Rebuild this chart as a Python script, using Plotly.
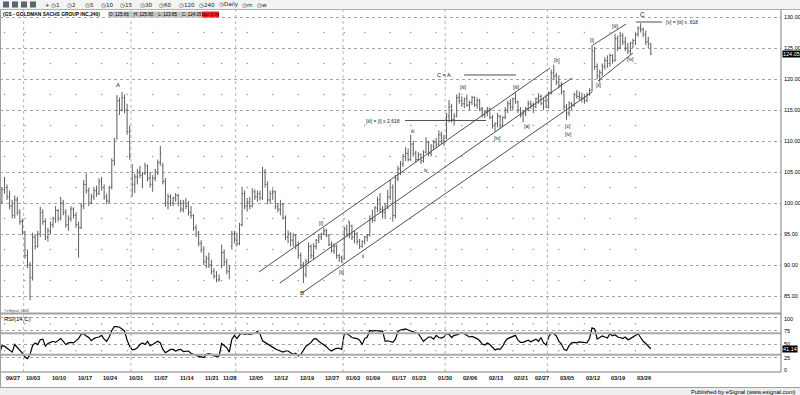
import pandas as pd
import plotly.graph_objects as go

# ---------------- data (GS 240-min bars) ----------------
FIRST_DAY = "2011-09-26"
LAST_DAY = "2012-03-29"
holidays = ["2011-11-24", "2011-12-26", "2012-01-02", "2012-01-16", "2012-02-20"]
single_bar_days = ["2011-11-25", "2012-03-29"]

opens = [
    98.5, 100.2, 102.2, 102.5, 101.0, 99.5, 98.0, 100.5, 98.5, 97.0,
    95.3, 91.5, 90.0, 88.0, 94.5, 93.0, 95.0, 98.5, 97.0, 94.5,
    95.5, 96.5, 97.5, 98.8, 97.5, 100.0, 98.5, 96.5, 97.5, 99.0,
    98.0, 96.5, 96.0, 99.5, 103.0, 102.0, 100.0, 101.0, 102.0, 101.5,
    103.5, 102.5, 101.0, 100.3, 102.5, 106.8, 110.5, 116.5, 115.0, 117.0,
    115.0, 111.5, 104.0, 103.0, 104.2, 105.0, 104.5, 104.8, 106.0, 104.0,
    103.0, 104.0, 105.0, 106.5, 106.0, 103.5, 100.0, 101.0, 100.0, 100.8,
    101.2, 100.0, 99.0, 100.0, 99.5, 98.5, 98.0, 96.0, 95.0, 93.5,
    92.5, 90.5, 91.0, 90.0, 89.0, 88.2, 87.6,
    90.0, 92.0, 90.5, 89.0, 93.0, 95.0, 94.0, 93.5, 96.5, 101.5,
    99.5, 100.2, 99.5, 101.8, 101.0, 101.5, 100.8, 105.0, 103.0, 100.5,
    101.5, 101.8, 99.4, 99.0, 99.8, 97.6, 94.5, 95.0, 94.0, 94.8,
    93.2, 91.5, 90.0, 88.5, 90.5, 93.0, 91.5, 93.0, 94.0, 94.5,
    95.0, 95.5, 94.8, 93.3, 92.3, 93.0, 91.5, 91.2, 91.0, 95.8,
    95.0, 96.3, 94.5, 95.0, 93.8, 93.0, 93.8, 94.5, 94.8, 97.5,
    97.2, 99.2, 100.5, 99.0, 98.5, 99.5, 101.0, 102.5, 98.0, 104.0,
    105.5, 106.3, 107.5, 108.0, 107.0, 109.5, 108.0, 107.0, 107.8, 106.8,
    108.2, 109.8, 108.0, 109.2, 109.8, 109.5, 111.0, 110.0, 110.5, 114.0,
    115.5, 113.5, 114.0, 117.0, 116.5, 116.0, 116.8, 115.8, 116.2, 117.0,
    115.8, 116.5, 115.2, 114.2, 114.8, 115.2, 113.8, 112.5, 112.8, 114.0,
    112.5, 113.8, 115.0, 116.0, 115.5, 116.8, 116.3, 115.0, 114.2, 114.5,
    115.2, 116.0, 115.8, 115.5, 116.8, 117.2, 116.0, 116.5, 115.5, 117.8,
    121.0, 120.5, 119.5, 119.0, 118.0, 115.5, 114.5, 116.0, 115.8, 117.5,
    117.2, 117.0, 116.8, 116.5, 117.5, 118.2, 124.5, 122.0, 120.5, 121.0,
    122.0, 123.0, 122.5, 123.8, 123.0, 126.5, 125.0, 127.0, 126.0, 125.0,
    124.5, 125.8, 126.2, 127.2, 128.2, 128.0, 127.2, 126.0, 125.66,
]
highs = [
    100.5, 102.6, 104.2, 103.0, 102.0, 100.5, 101.2, 101.0, 99.0, 97.5,
    95.5, 92.5, 90.5, 95.2, 95.0, 95.5, 99.4, 99.0, 97.5, 96.0,
    97.0, 97.8, 99.5, 99.0, 101.0, 100.5, 99.0, 98.0, 99.5, 99.3,
    98.5, 97.0, 100.0, 103.7, 104.8, 102.5, 101.5, 102.6, 102.8, 104.0,
    104.2, 103.0, 101.5, 102.8, 107.2, 110.5, 117.4, 117.0, 117.9, 117.5,
    116.0, 112.5, 106.3, 104.7, 105.5, 106.0, 105.0, 106.5, 106.2, 105.0,
    104.5, 105.5, 107.0, 109.2, 106.5, 104.0, 101.5, 101.4, 101.0, 101.6,
    101.5, 100.5, 100.5, 100.8, 100.3, 99.5, 98.2, 96.5, 95.5, 94.0,
    93.0, 91.5, 92.0, 90.8, 89.5, 89.0, 88.5,
    93.3, 92.5, 91.0, 90.0, 95.5, 95.5, 95.2, 96.8, 102.6, 102.0,
    100.8, 101.0, 102.4, 102.2, 102.0, 102.0, 105.8, 105.5, 103.5, 102.0,
    102.3, 102.0, 100.0, 100.5, 100.0, 98.0, 95.6, 95.3, 95.2, 95.0,
    93.8, 92.0, 90.5, 91.0, 93.6, 93.3, 93.5, 94.2, 95.0, 95.2,
    96.0, 95.8, 95.0, 93.8, 93.5, 93.3, 91.8, 91.5, 96.2, 96.5,
    97.0, 96.5, 95.6, 95.3, 94.2, 94.0, 94.7, 95.0, 98.0, 98.9,
    99.5, 101.0, 101.6, 99.5, 100.0, 102.1, 103.7, 103.0, 104.5, 106.0,
    106.8, 107.9, 109.0, 108.8, 111.0, 110.0, 108.4, 108.2, 108.0, 108.5,
    110.6, 110.0, 109.5, 110.2, 110.5, 111.7, 111.5, 111.0, 114.5, 116.6,
    116.0, 114.5, 117.5, 117.8, 117.2, 117.0, 117.5, 116.5, 117.3, 117.2,
    117.0, 116.8, 115.5, 115.0, 115.5, 115.4, 114.2, 113.0, 114.5, 114.2,
    114.0, 115.5, 116.5, 116.8, 117.0, 117.9, 116.5, 115.5, 115.0, 115.5,
    116.5, 116.5, 116.2, 117.0, 117.7, 117.5, 117.0, 117.5, 118.0, 121.5,
    122.3, 121.0, 120.6, 119.5, 118.2, 116.0, 116.4, 116.3, 117.8, 118.2,
    118.0, 117.8, 117.5, 117.8, 118.5, 125.5, 125.2, 122.5, 121.5, 122.5,
    123.5, 123.8, 124.1, 124.0, 127.3, 127.0, 127.6, 127.4, 126.8, 125.8,
    126.0, 126.5, 127.5, 128.5, 129.0, 128.3, 127.8, 126.8, 125.8,
]
lows = [
    97.8, 99.8, 101.5, 100.5, 99.0, 97.5, 97.5, 98.0, 96.5, 94.8,
    91.0, 89.5, 84.3, 87.5, 92.5, 92.8, 94.5, 96.5, 94.0, 93.8,
    95.0, 96.0, 96.8, 97.0, 97.2, 98.0, 96.0, 95.5, 97.0, 97.5,
    96.0, 91.2, 95.8, 99.0, 101.5, 99.5, 99.8, 100.5, 101.0, 101.3,
    102.0, 100.5, 99.8, 100.0, 102.2, 106.0, 110.2, 114.2, 114.8, 114.5,
    111.0, 107.0, 101.0, 101.6, 103.0, 104.0, 102.4, 104.5, 103.5, 102.5,
    101.8, 103.5, 104.5, 106.0, 103.0, 99.4, 99.0, 99.5, 99.5, 100.2,
    99.5, 98.5, 98.5, 99.0, 98.0, 97.5, 95.5, 94.5, 93.0, 92.0,
    90.0, 89.5, 89.5, 88.5, 87.8, 87.2, 87.3,
    89.5, 90.0, 88.5, 87.7, 92.5, 93.5, 93.0, 93.2, 96.2, 99.0,
    98.6, 99.0, 99.3, 100.5, 100.2, 100.4, 100.5, 102.5, 99.8, 100.0,
    100.5, 99.0, 98.5, 98.0, 97.3, 94.0, 93.5, 93.0, 93.0, 92.5,
    91.0, 89.5, 87.1, 88.0, 90.3, 91.0, 90.8, 92.5, 93.5, 94.0,
    94.8, 94.5, 93.0, 92.0, 91.8, 91.0, 90.5, 90.3, 90.8, 94.5,
    94.3, 94.0, 93.5, 93.3, 92.6, 92.8, 93.3, 93.8, 94.6, 96.8,
    97.0, 98.5, 98.5, 97.5, 97.4, 99.0, 100.5, 97.0, 97.5, 103.5,
    104.5, 105.8, 106.8, 106.7, 106.8, 107.5, 106.5, 106.8, 106.3, 106.5,
    108.0, 107.5, 107.5, 108.5, 108.8, 109.2, 109.5, 109.2, 110.3, 113.0,
    113.0, 112.5, 113.8, 116.0, 115.5, 115.3, 115.5, 115.0, 115.8, 115.5,
    115.2, 114.8, 113.8, 113.7, 114.0, 113.5, 112.0, 111.5, 112.2, 112.0,
    112.3, 113.5, 114.5, 115.0, 115.0, 116.0, 114.5, 113.8, 113.0, 114.0,
    114.8, 115.2, 114.5, 115.3, 116.0, 115.8, 115.0, 115.3, 115.2, 117.5,
    120.0, 119.0, 118.5, 117.5, 115.0, 113.4, 114.0, 115.0, 115.5, 116.8,
    116.5, 116.2, 116.0, 116.3, 117.3, 118.0, 121.5, 120.0, 119.4, 120.5,
    121.5, 121.8, 122.0, 122.5, 122.8, 124.5, 124.8, 125.5, 124.5, 124.0,
    123.9, 125.0, 125.5, 126.8, 127.5, 126.8, 125.5, 125.0, 123.85,
]
closes = [
    100.2, 102.2, 102.5, 101.0, 99.5, 98.0, 100.5, 98.5, 97.0, 95.3,
    91.5, 90.0, 88.0, 94.5, 93.0, 95.0, 98.5, 97.0, 94.5, 95.5,
    96.5, 97.5, 98.8, 97.5, 100.0, 98.5, 96.5, 97.5, 99.0, 98.0,
    96.5, 96.0, 99.5, 103.0, 102.0, 100.0, 101.0, 102.0, 101.5, 103.5,
    102.5, 101.0, 100.3, 102.5, 106.8, 110.0, 116.5, 115.0, 117.0, 115.0,
    111.5, 107.5, 103.0, 104.2, 105.0, 104.5, 104.8, 106.0, 104.0, 103.0,
    104.0, 105.0, 106.5, 108.0, 103.5, 100.0, 101.0, 100.0, 100.8, 101.2,
    100.0, 99.0, 100.0, 99.5, 98.5, 98.0, 96.0, 95.0, 93.5, 92.5,
    90.5, 91.0, 90.0, 89.0, 88.2, 87.6, 87.8,
    92.0, 90.5, 89.0, 89.5, 95.0, 94.0, 93.5, 96.5, 101.5, 99.5,
    100.2, 99.5, 101.8, 101.0, 101.5, 100.8, 105.0, 103.0, 100.5, 101.5,
    101.8, 99.4, 99.0, 99.8, 97.6, 94.5, 95.0, 94.0, 94.8, 93.2,
    91.5, 90.0, 88.5, 90.5, 93.0, 91.5, 93.0, 94.0, 94.5, 95.0,
    95.5, 94.8, 93.3, 92.3, 93.0, 91.5, 91.2, 90.8, 95.8, 95.0,
    96.3, 94.5, 95.0, 93.8, 93.0, 93.8, 94.5, 94.8, 97.5, 97.2,
    99.2, 100.5, 99.0, 98.5, 99.5, 101.0, 102.5, 98.0, 104.0, 105.5,
    106.3, 107.5, 108.0, 107.0, 109.5, 108.0, 107.0, 107.8, 106.8, 108.2,
    109.8, 108.0, 109.2, 109.8, 109.5, 111.0, 110.0, 110.5, 114.0, 115.5,
    113.5, 114.0, 117.0, 116.5, 116.0, 116.8, 115.8, 116.2, 117.0, 115.8,
    116.5, 115.2, 114.2, 114.8, 115.2, 113.8, 112.5, 112.8, 114.0, 112.5,
    113.8, 115.0, 116.0, 115.5, 116.8, 116.3, 115.0, 114.2, 114.5, 115.2,
    116.0, 115.8, 115.5, 116.8, 117.2, 116.0, 116.5, 115.5, 117.8, 121.0,
    120.5, 119.5, 119.0, 118.0, 115.5, 114.5, 116.0, 115.8, 117.5, 117.2,
    117.0, 116.8, 116.5, 117.5, 118.2, 124.5, 122.0, 120.5, 121.0, 122.0,
    123.0, 122.5, 123.8, 123.0, 126.5, 125.0, 127.0, 126.0, 125.0, 124.5,
    125.8, 126.2, 127.2, 128.2, 128.0, 127.2, 126.0, 125.66, 124.05,
]
rsi = [
    30, 47, 46, 42, 39, 35, 49, 44, 40, 33,
    26, 23, 31, 47, 52, 49, 58, 59, 46, 51,
    53, 55, 53, 56, 60, 55, 49, 52, 53, 52,
    56, 60, 68, 69, 65, 62, 56, 60, 62, 63,
    66, 59, 55, 63, 75, 82, 82, 81, 78, 74,
    57, 46, 39, 40, 43, 49, 52, 49, 55, 47,
    49, 52, 55, 52, 40, 34, 37, 40, 40, 37,
    39, 40, 36, 37, 37, 33, 31, 28, 27, 26,
    25, 31, 32, 31, 28, 27, 28,
    51, 46, 43, 35, 59, 66, 60, 67, 70, 68,
    69, 68, 69, 70, 73, 69, 56, 53, 50, 47,
    43, 41, 39, 37, 35, 37, 37, 34, 31, 33,
    28, 31, 40, 46, 49, 53, 59, 60, 55, 52,
    49, 45, 40, 37, 40, 42, 42, 40, 69, 69,
    66, 62, 61, 60, 57, 49, 60, 63, 75, 74,
    75, 74, 74, 74, 55, 56, 55, 53, 59, 73,
    76, 77, 78, 76, 74, 72, 71, 69, 62, 55,
    59, 63, 63, 59, 66, 62, 61, 63, 69, 68,
    62, 66, 67, 69, 71, 69, 66, 63, 64, 62,
    60, 56, 50, 48, 52, 49, 43, 39, 41, 40,
    46, 55, 60, 62, 63, 66, 57, 53, 53, 55,
    57, 54, 57, 59, 55, 62, 52, 48, 63, 71,
    69, 65, 55, 50, 40, 38, 47, 52, 53, 52,
    54, 53, 53, 52, 60, 80, 78, 59, 62, 65,
    63, 61, 69, 65, 67, 63, 62, 60, 63, 58,
    60, 63, 67, 69, 62, 55, 51, 46, 41.14,
]

tick_dates = ["2011-09-27", "2011-10-03", "2011-10-10", "2011-10-17", "2011-10-24",
              "2011-10-31", "2011-11-07", "2011-11-14", "2011-11-21", "2011-11-28",
              "2011-12-05", "2011-12-12", "2011-12-19", "2011-12-27", "2012-01-03",
              "2012-01-09", "2012-01-17", "2012-01-23", "2012-01-30", "2012-02-06",
              "2012-02-13", "2012-02-21", "2012-02-27", "2012-03-05", "2012-03-12",
              "2012-03-19", "2012-03-26"]
tick_labels = ["09/27", "10/03", "10/10", "10/17", "10/24", "10/31", "11/07", "11/14",
               "11/21", "11/28", "12/05", "12/12", "12/19", "12/27", "01/03", "01/09",
               "01/17", "01/23", "01/30", "02/06", "02/13", "02/21", "02/27", "03/05",
               "03/12", "03/19", "03/26"]
price_ticks = [85, 90, 95, 100, 105, 110, 115, 120, 125, 130]
rsi_ticks = [0, 25, 50, 75, 100]
rsi_bands = [30, 70]
last_price = 124.05
last_rsi = 41.14

# wave labels: (bar position, price, text, size)
wave_labels = [
    (46.4, 119.0, "A", 6), (118.4, 85.5, "B", 6), (251.9, 130.4, "C", 6.5),
    (174.0, 120.65, "C = A", 5.5), (150.2, 113.23, "[iii] = [i] x 2.618", 5),
    (181.5, 118.7, "[iii]", 5), (161.9, 111.6, "iii", 5), (167.0, 105.3, "iv", 5),
    (125.9, 96.8, "[i]", 5), (134.1, 88.9, "[ii]", 5), (136.5, 97.1, "i", 5),
    (142.3, 91.45, "ii", 5), (202.6, 118.7, "[iii]", 5), (194.8, 110.5, "[iv]", 5),
    (206.5, 112.4, "[a]", 5), (218.3, 123.06, "[b]", 5), (222.6, 112.42, "[c]", 5),
    (222.6, 111.1, "[iv]", 5), (232.3, 126.3, "[i]", 5), (234.7, 119.0, "[ii]", 5),
    (241.0, 128.55, "[iii]", 5), (247.2, 123.2, "[iv]", 5),
]
note_left = (260.1, 129.19, "[v] = [iii] x .618")
# drawn trend / target lines: (bar0, price0, bar1, price1)
trend_lines = [
    (101.6, 88.87, 215.5, 121.77),
    (109.8, 87.10, 224.1, 120.16),
    (118.4, 85.48, 232.0, 117.90),
    (232.3, 125.48, 245.3, 128.87),
    (234.3, 119.68, 248.0, 124.19),
    (181.9, 120.65, 202.2, 120.65),
    (158.8, 113.31, 190.5, 113.31),
    (249.2, 129.19, 259.4, 129.19),
]

# ---------------- build ----------------
W, H = 800, 395
FONT = "Liberation Sans"


def fx(px):
    return px / W


def fy(py):
    return 1 - py / H


trading = [d.strftime("%Y-%m-%d") for d in pd.bdate_range(FIRST_DAY, LAST_DAY)]
trading = [d for d in trading if d not in holidays]
bar_day = []
for d in trading:
    bar_day += [d] * (1 if d in single_bar_days else 2)
n = len(closes)
assert len(bar_day) == n == len(opens) == len(highs) == len(lows) == len(rsi)
bar_x = list(range(n))

tick_pos = [bar_day.index(d) for d in tick_dates]
month_pos = [i for i in range(1, n) if bar_day[i][:7] != bar_day[i - 1][:7]]

fig = go.Figure()
fig.add_trace(go.Ohlc(
    x=bar_x, open=opens, high=highs, low=lows, close=closes,
    increasing=dict(line=dict(color="#5e5e5e", width=1)),
    decreasing=dict(line=dict(color="#5e5e5e", width=1)),
    tickwidth=0.4, hoverinfo="skip", showlegend=False, xaxis="x", yaxis="y"))
fig.add_trace(go.Scatter(
    x=bar_x, y=rsi, mode="lines", line=dict(color="black", width=1.2),
    hoverinfo="skip", showlegend=False, xaxis="x", yaxis="y2"))

# faint weekly grid dots
dot_levels = [p + 2.5 for p in price_ticks[:-1]]
fig.add_trace(go.Scatter(
    x=[t for t in tick_pos for _ in dot_levels], y=[p for _ in tick_pos for p in dot_levels],
    mode="markers", marker=dict(size=1.6, color="#9a9a9a"), hoverinfo="skip",
    showlegend=False, xaxis="x", yaxis="y"))
fig.add_trace(go.Scatter(
    x=[t for t in tick_pos for _ in (37.5, 87.5)], y=[p for _ in tick_pos for p in (37.5, 87.5)],
    mode="markers", marker=dict(size=1.6, color="#9a9a9a"), hoverinfo="skip",
    showlegend=False, xaxis="x", yaxis="y2"))

shapes = []
# toolbar strip
shapes.append(dict(type="rect", xref="paper", yref="paper", x0=0, x1=1, y0=fy(9.5), y1=1,
                   fillcolor="#f3f3f3", line=dict(width=0), layer="below"))
shapes.append(dict(type="line", xref="paper", yref="paper", x0=0, x1=1, y0=fy(9.5), y1=fy(9.5),
                   line=dict(color="#b0b0b0", width=1)))
for ix in (3, 12, 21, 30):
    shapes.append(dict(type="rect", xref="paper", yref="paper", x0=fx(ix), x1=fx(ix + 6),
                       y0=fy(7.5), y1=fy(1.5), fillcolor="#5c6470", line=dict(width=0)))
# month separators
for m in month_pos:
    shapes.append(dict(type="line", xref="x", yref="paper", x0=m - 0.5, x1=m - 0.5,
                       y0=fy(372), y1=fy(10), line=dict(color="#b4b4b4", width=1, dash="dot")))
# RSI bands
for b in rsi_bands:
    shapes.append(dict(type="line", xref="paper", yref="y2", x0=0, x1=fx(781), y0=b, y1=b,
                       line=dict(color="#a8a8a8", width=2)))
# panel frame
shapes.append(dict(type="line", xref="paper", yref="paper", x0=0, x1=fx(781), y0=fy(313.5), y1=fy(313.5),
                   line=dict(color="#a0a0a0", width=2)))
shapes.append(dict(type="line", xref="paper", yref="paper", x0=0, x1=fx(781), y0=fy(372), y1=fy(372),
                   line=dict(color="#808080", width=1)))
shapes.append(dict(type="line", xref="paper", yref="paper", x0=fx(781), x1=fx(781), y0=fy(372), y1=fy(10),
                   line=dict(color="#808080", width=1)))
shapes.append(dict(type="line", xref="paper", yref="paper", x0=fx(0.5), x1=fx(0.5), y0=fy(387), y1=fy(10),
                   line=dict(color="#a0a0a0", width=1)))
# status bar
shapes.append(dict(type="rect", xref="paper", yref="paper", x0=0, x1=1, y0=0, y1=fy(387.5),
                   fillcolor="#efefef", line=dict(width=0), layer="below"))
shapes.append(dict(type="line", xref="paper", yref="paper", x0=0, x1=1, y0=fy(387.5), y1=fy(387.5),
                   line=dict(color="#a0a0a0", width=1)))
# header boxes
shapes.append(dict(type="rect", xref="paper", yref="paper", x0=fx(108), x1=fx(202), y0=fy(17.5), y1=fy(11.5),
                   fillcolor="#c4c4c4", line=dict(width=0)))
shapes.append(dict(type="rect", xref="paper", yref="paper", x0=fx(202), x1=fx(219), y0=fy(17.5), y1=fy(11.5),
                   fillcolor="#ee1c1c", line=dict(width=0)))
# trend lines
for (a0, p0, a1, p1) in trend_lines:
    shapes.append(dict(type="line", xref="x", yref="y", x0=a0, y0=p0, x1=a1, y1=p1,
                       line=dict(color="#505050", width=1)))

ann = []
# toolbar text
tool_items = [("+", 43), ("◷1", 49), ("◷2", 65), ("◷5", 83), ("◷10", 99), ("◷15", 118),
              ("◷30", 138), ("◷60", 157), ("◷120", 177), ("◷240", 197), ("◷Daily", 217),
              ("◷m", 240), ("◷w", 255)]
for t, ix in tool_items:
    ann.append(dict(x=fx(ix), y=fy(5), xref="paper", yref="paper", text=t, showarrow=False,
                    xanchor="left", yanchor="middle", font=dict(size=5.6, family="DejaVu Sans", color="#222")))
ann.append(dict(x=fx(1), y=fy(14.5), xref="paper", yref="paper", text="<b>(GS - GOLDMAN SACHS GROUP INC,240)</b>",
                showarrow=False, xanchor="left", yanchor="middle", font=dict(size=4.9, family=FONT, color="black")))
ann.append(dict(x=fx(155), y=fy(14.5), xref="paper", yref="paper",
                text="O: 125.66    H: 125.80    L: 123.85    C: 124.05",
                showarrow=False, xanchor="center", yanchor="middle", font=dict(size=4.5, family=FONT, color="black")))
ann.append(dict(x=fx(210.5), y=fy(14.5), xref="paper", yref="paper", text="Net -2.78",
                showarrow=False, xanchor="center", yanchor="middle", font=dict(size=4.2, family=FONT, color="black")))
# date labels
for pos, lab in zip(tick_pos, tick_labels):
    ann.append(dict(x=pos, y=fy(378), xref="x", yref="paper", text="<b>" + lab + "</b>", showarrow=False,
                    xanchor="left", yanchor="middle", xshift=-0.5, font=dict(size=5.6, family=FONT, color="#111")))
# price / rsi axis labels
for v in price_ticks:
    ann.append(dict(x=fx(782.5), y=v, xref="paper", yref="y", text=f"{v:.2f}", showarrow=False,
                    xanchor="left", yanchor="middle", borderpad=0, font=dict(size=5.5, family=FONT, color="black")))
for v in rsi_ticks:
    ann.append(dict(x=fx(783), y=min(max(v, 2), 97), xref="paper", yref="y2", text=str(v), showarrow=False,
                    xanchor="left", yanchor="middle", borderpad=0, font=dict(size=5.5, family=FONT, color="black")))
# last values
ann.append(dict(x=fx(781.5), y=last_price, xref="paper", yref="y", text=f"{last_price:.2f}", showarrow=False,
                xanchor="left", yanchor="middle", bgcolor="black", borderpad=0,
                font=dict(size=5.5, family=FONT, color="white")))
ann.append(dict(x=fx(781.5), y=last_rsi, xref="paper", yref="y2", text=f"{last_rsi:.2f}", showarrow=False,
                xanchor="left", yanchor="middle", bgcolor="black", borderpad=0,
                font=dict(size=5.5, family=FONT, color="white")))
# panel texts
ann.append(dict(x=fx(2), y=fy(319), xref="paper", yref="paper", text="RSI(14,C)", showarrow=False,
                xanchor="left", yanchor="middle", font=dict(size=6, family=FONT, color="black")))
ann.append(dict(x=fx(2), y=fy(310.5), xref="paper", yref="paper", text="©eSignal, 2008", showarrow=False,
                xanchor="left", yanchor="middle", font=dict(size=3.6, family=FONT, color="#444")))
ann.append(dict(x=fx(797), y=fy(391.5), xref="paper", yref="paper", text="Published by eSignal (www.esignal.com)",
                showarrow=False, xanchor="right", yanchor="middle", font=dict(size=5.8, family=FONT, color="black")))
# wave labels
for (a, p, t, s) in wave_labels:
    ann.append(dict(x=a, y=p, xref="x", yref="y", text=t, showarrow=False, xanchor="center",
                    yanchor="middle", font=dict(size=s, family=FONT, color="#222")))
ann.append(dict(x=note_left[0], y=note_left[1], xref="x", yref="y", text=note_left[2], showarrow=False,
                xanchor="left", yanchor="middle", font=dict(size=5, family=FONT, color="#222")))

fig.update_layout(
    width=W, height=H, margin=dict(l=0, r=0, t=0, b=0),
    paper_bgcolor="white", plot_bgcolor="white", showlegend=False,
    xaxis=dict(domain=[0, fx(781)], range=[0.24, 305.95], showticklabels=False, showgrid=False,
               zeroline=False, showline=False, anchor="y", rangeslider=dict(visible=False), fixedrange=True),
    yaxis=dict(domain=[fy(312), fy(10)], range=[82.419, 131.129], side="right", anchor="x",
               tickvals=price_ticks, showticklabels=False, ticks="",
               showgrid=True, gridcolor="#a4a4a4", griddash="dot",
               gridwidth=1, zeroline=False, showline=False),
    yaxis2=dict(domain=[fy(372), fy(314)], range=[-1.85, 105.56], side="right", anchor="x",
                tickvals=rsi_ticks, showticklabels=False, ticks="",
                showgrid=True, gridcolor="#a4a4a4", griddash="dot",
                gridwidth=1, zeroline=False, showline=False),
    shapes=shapes, annotations=ann,
)
fig.write_html(
    "out.html",
    config={"displayModeBar": False, "staticPlot": True},
    post_script="document.body.style.margin='0';document.body.style.padding='0';"
                "document.body.style.overflow='hidden';",
)
